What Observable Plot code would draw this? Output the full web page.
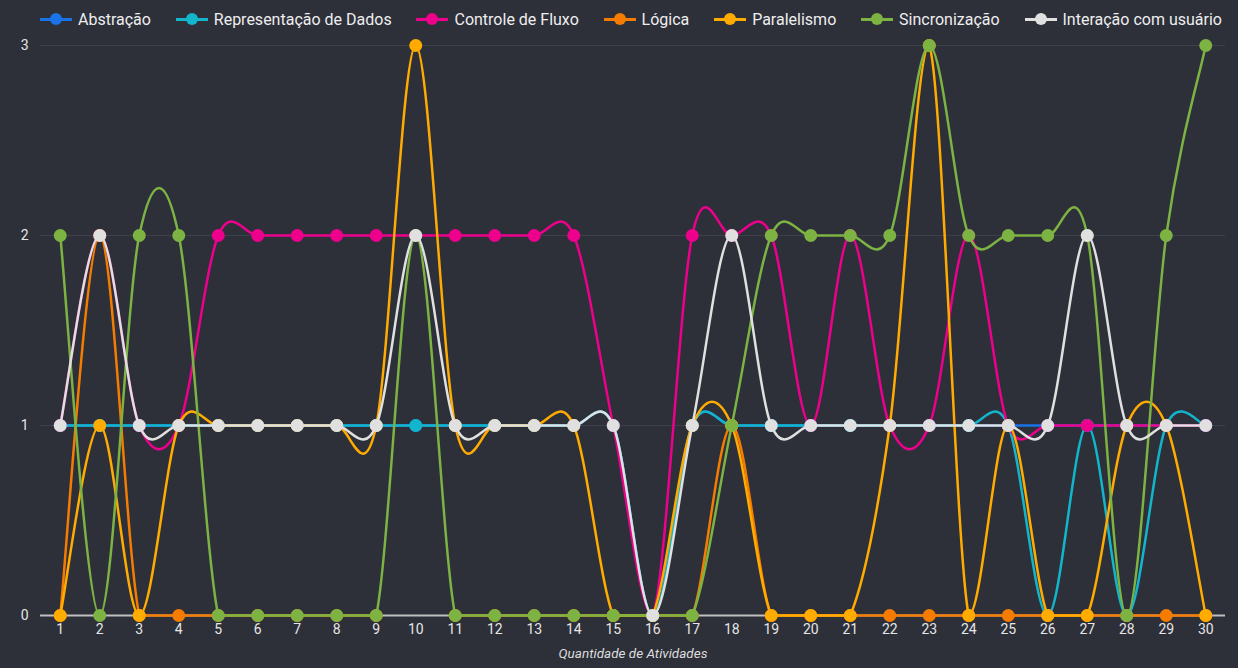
<!DOCTYPE html>
<html><head><meta charset="utf-8">
<script src="https://cdn.jsdelivr.net/npm/d3@7"></script>
<script src="https://cdn.jsdelivr.net/npm/@observablehq/plot@0.6"></script>
<style>
html,body{margin:0;padding:0;background:#2d2f39;}
body{width:1238px;height:668px;overflow:hidden;font-family:Roboto,"Noto Sans",sans-serif;}
#legend{height:38px;display:flex;justify-content:space-between;align-items:center;padding:0 16px 0 40px;box-sizing:border-box;width:1238px;}
.item{display:flex;align-items:center;color:#eeeeee;font-size:16px;white-space:nowrap;}
.mk{position:relative;width:32px;height:12px;margin-right:6px;}
.mk .ln{position:absolute;left:0;right:0;top:4.5px;height:3px;}
.mk .dt{position:absolute;left:10px;top:0;width:12px;height:12px;border-radius:50%;}
</style></head>
<body><div id="legend"></div><div id="chart"></div>
<script>
const atividades = d3.range(1, 31);
const seriesNames = ["Abstração", "Representação de Dados", "Controle de Fluxo", "Lógica", "Paralelismo", "Sincronização", "Interação com usuário"];
const abstracao     = [1,1,1,1,1,1,1,1,1,1,1,1,1,1,1,0,1,1,1,1,1,1,1,1,1,1,1,1,1,1];
const representacao = [1,1,1,1,1,1,1,1,1,1,1,1,1,1,1,0,1,1,1,1,1,1,1,1,1,0,1,0,1,1];
const controle      = [1,2,1,1,2,2,2,2,2,2,2,2,2,2,1,0,2,2,2,1,2,1,1,2,1,1,1,1,1,1];
const logica        = [0,2,0,0,0,0,0,0,0,null,0,0,0,0,0,0,0,1,0,0,0,0,0,0,0,0,0,0,0,0];
const paralelismo   = [0,1,0,1,1,1,1,1,1,3,1,1,1,1,0,0,1,1,0,0,0,1,3,0,1,0,0,1,1,0];
const sincronizacao = [2,0,2,2,0,0,0,0,0,2,0,0,0,0,0,0,0,1,2,2,2,2,3,2,2,2,2,0,2,3];
const interacao     = [1,2,1,1,1,1,1,1,1,2,1,1,1,1,1,0,1,2,1,1,1,1,1,1,1,1,2,1,1,1];
const yTicks = [0, 1, 2, 3];
const colors = ["#1a73e8", "#12b5cb", "#ec008c", "#f57c00", "#ffab00", "#7cb342", "#e0e0e0"];
const seriesValues = [abstracao, representacao, controle, logica, paralelismo, sincronizacao, interacao];

const W = 1238, H = 630, MT = 7, MB = 53, ML = 40, MR = 13;

// legend
const legend = document.getElementById("legend");
seriesNames.forEach((name, i) => {
  const it = document.createElement("div"); it.className = "item";
  it.innerHTML = `<div class="mk"><div class="ln" style="background:${colors[i]}"></div><div class="dt" style="background:${colors[i]}"></div></div><span>${name}</span>`;
  legend.appendChild(it);
});

// smooth cardinal curve whose control points are kept inside the plot area
function clampedCardinal(context) {
  let pts = [];
  const lo = MT, hi = H - MB;
  const cl = v => Math.max(lo, Math.min(hi, v));
  return {
    areaStart() {}, areaEnd() {},
    lineStart() { pts = []; },
    point(x, y) { pts.push([+x, +y]); },
    lineEnd() {
      const n = pts.length;
      if (!n) return;
      context.moveTo(pts[0][0], pts[0][1]);
      for (let i = 0; i < n - 1; i++) {
        const p0 = pts[Math.max(i - 1, 0)], p1 = pts[i], p2 = pts[i + 1], p3 = pts[Math.min(i + 2, n - 1)];
        const c1x = p1[0] + (p2[0] - p0[0]) / 6, c1y = cl(p1[1] + (p2[1] - p0[1]) / 6);
        const c2x = p2[0] - (p3[0] - p1[0]) / 6, c2y = cl(p2[1] - (p3[1] - p1[1]) / 6);
        context.bezierCurveTo(c1x, c1y, c2x, c2y, p2[0], p2[1]);
      }
    }
  };
}

const rows = [];
seriesNames.forEach((name, i) => seriesValues[i].forEach((v, j) => rows.push({serie: name, x: atividades[j], y: v})));

const marks = [
  Plot.ruleY([1, 2, 3], {stroke: "#3d404b", strokeWidth: 1}),
  Plot.ruleY([0], {stroke: "#c0c0c0", strokeWidth: 2}),
  Plot.axisY({ticks: yTicks, tickSize: 0, tickPadding: 12, tickFormat: d3.format("d"), label: null, fontSize: 14}),
  Plot.axisX({ticks: atividades, tickSize: 0, tickPadding: 9, tickFormat: d3.format("d"), label: null, fontSize: 14}),
  Plot.text(["Quantidade de Atividades"], {frameAnchor: "bottom", dy: 42, fontStyle: "italic", fontSize: 13.5, fill: "#dddddd"})
];
seriesNames.forEach((name, i) => {
  const d = rows.filter(r => r.serie === name);
  marks.push(Plot.line(d, {x: "x", y: "y", stroke: colors[i], strokeWidth: 2.5, curve: clampedCardinal}));
  marks.push(Plot.dot(d, {x: "x", y: "y", fill: colors[i], r: 6.5}));
});

const chart = Plot.plot({
  width: W, height: H,
  marginTop: MT, marginBottom: MB, marginLeft: ML, marginRight: MR,
  x: {type: "linear", domain: [0.5, 30.5]},
  y: {domain: [0, 3]},
  style: {background: "transparent", color: "#e6e6e6", fontSize: "13px", fontFamily: "Roboto, 'Noto Sans', sans-serif"},
  marks
});
document.getElementById("chart").appendChild(chart);
</script>
</body></html>
